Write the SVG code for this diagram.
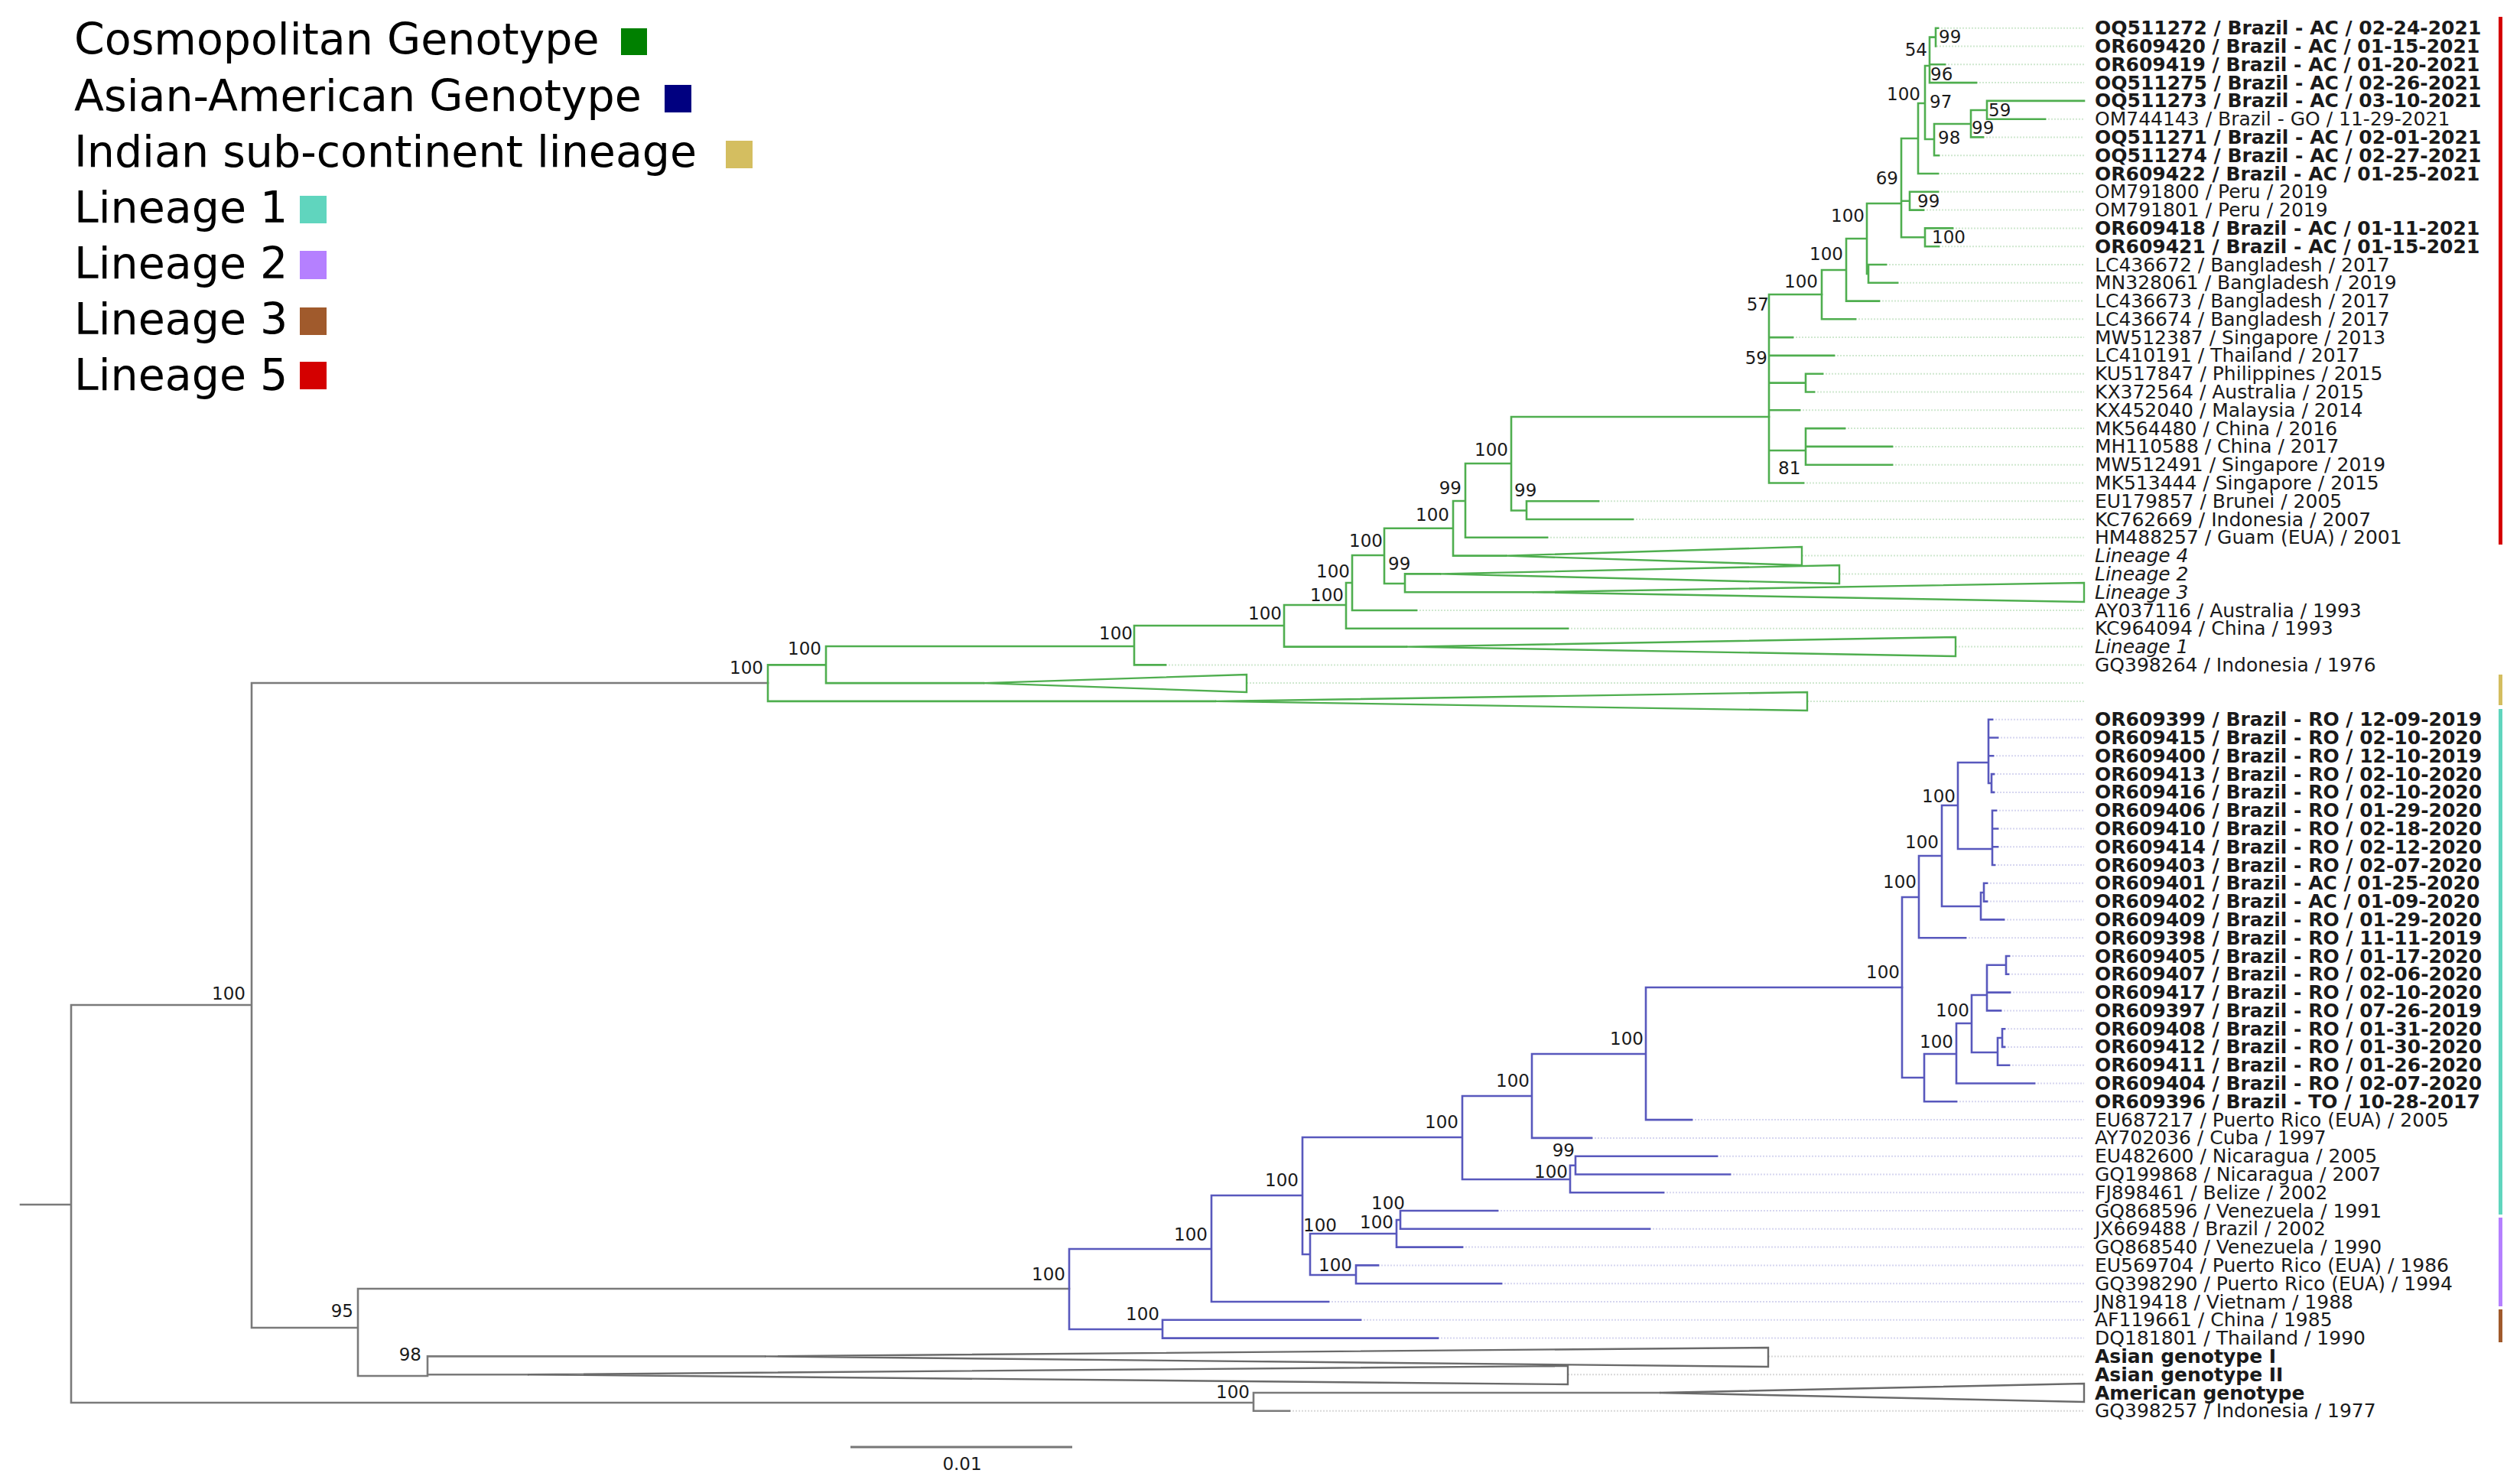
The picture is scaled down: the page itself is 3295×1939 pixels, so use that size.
<svg xmlns="http://www.w3.org/2000/svg" width="3295" height="1939" viewBox="0 0 3295 1939">
<style>
text{font-family:"DejaVu Sans","Liberation Sans",sans-serif;fill:#1a1a1a}
.t{font-size:25px}
.bd{font-weight:bold}
.it{font-style:italic}
.n{font-size:23px}
.lgd{font-size:57px;fill:#000}
.g{stroke:#4fae4f;stroke-width:2.6;fill:none;stroke-linecap:square}
.b{stroke:#5858bd;stroke-width:2.6;fill:none;stroke-linecap:square}
.k{stroke:#7a7a7a;stroke-width:2.6;fill:none;stroke-linecap:square}
.gt{stroke:#4fae4f;stroke-width:2.4;fill:none;stroke-linejoin:miter}
.kt{stroke:#6a6a6a;stroke-width:2.4;fill:none}
.lg{stroke:#cfe8cf;stroke-width:2;stroke-dasharray:2 2;fill:none}
.lb{stroke:#d6d6f0;stroke-width:2;stroke-dasharray:2 2;fill:none}
.lk{stroke:#d8d8d8;stroke-width:2;stroke-dasharray:2 2;fill:none}
</style>
<rect width="3295" height="1939" fill="#fff"/>

<g id="legend">
<text class="lgd" x="97" y="71">Cosmopolitan Genotype</text><rect x="812" y="37" width="34" height="35" fill="#008000"/>
<text class="lgd" x="97" y="145">Asian-American Genotype</text><rect x="869" y="111" width="35" height="36" fill="#000080"/>
<text class="lgd" x="97" y="218">Indian sub-continent lineage</text><rect x="949" y="184" width="35" height="36" fill="#d4be60"/>
<text class="lgd" x="97" y="291">Lineage 1</text><rect x="392" y="256" width="35" height="36" fill="#60d5be"/>
<text class="lgd" x="97" y="364">Lineage 2</text><rect x="392" y="328" width="35" height="37" fill="#b580ff"/>
<text class="lgd" x="97" y="437">Lineage 3</text><rect x="392" y="402" width="35" height="36" fill="#a05a2c"/>
<text class="lgd" x="97" y="510">Lineage 5</text><rect x="392" y="473" width="35" height="36" fill="#d40000"/>
</g>

<g id="clade-bars">
<rect x="3267" y="22" width="5" height="690" fill="#d40000"/>
<rect x="3267" y="882" width="5" height="40" fill="#d4be60"/>
<rect x="3267" y="927" width="5" height="661" fill="#60d5be"/>
<rect x="3267" y="1592" width="5" height="116" fill="#b580ff"/>
<rect x="3267" y="1712" width="5" height="43" fill="#a05a2c"/>
</g>

<g id="connectors">
<path class="lg" d="M2534 36.7H2725M2532 60.5H2725M2543 84.3H2725M2584 108.1H2725M2674 155.7H2725M2593 179.4H2725M2535 203.2H2725M2534 227H2725M2534 250.8H2725M2515 274.6H2725M2553 298.4H2725M2535 322.2H2725M2466 346H2725M2481 369.8H2725M2457 393.6H2725M2426 417.3H2725M2344 441.1H2725M2398 464.9H2725M2383 488.7H2725M2372 512.5H2725M2353 536.3H2725M2412 560.1H2725M2474 583.9H2725M2474 607.7H2725M2358 631.5H2725M2090 655.2H2725M2135 679H2725M2023 702.8H2725M2356 726.6H2725M2405 750.4H2725M1852 798H2725M2050 821.8H2725M2557 845.6H2725M1524 869.4H2725M1630 893.1H2725M2363 916.9H2725"/>
<path class="lb" d="M2605 940.7H2725M2612 964.5H2725M2606 988.3H2725M2607 1012.1H2725M2607 1035.9H2725M2610 1059.7H2725M2612 1083.5H2725M2612 1107.3H2725M2608 1131H2725M2598 1154.8H2725M2598 1178.6H2725M2620 1202.4H2725M2570 1226.2H2725M2627 1250H2725M2626 1273.8H2725M2628 1297.6H2725M2616 1321.4H2725M2621 1345.2H2725M2621 1368.9H2725M2627 1392.7H2725M2660 1416.5H2725M2558 1440.3H2725M2212 1464.1H2725M2081 1487.9H2725M2245 1511.7H2725M2262 1535.5H2725M2175 1559.3H2725M1958 1583H2725M2157 1606.8H2725M1912 1630.6H2725M1802 1654.4H2725M1963 1678.2H2725M1737 1702H2725M1779 1725.8H2725M1880 1749.6H2725"/>
<path class="lk" d="M2312 1773.4H2725M2050 1797.2H2725M1686 1844.7H2725"/>

<path class="k" d="M27 1575H93M93 1314V1834M93 1314H329M93 1834H1639M329 893V1736M329 893H1004M329 1736H468M468 1685V1799M468 1685H1398M468 1799H559M559 1773.4V1797.2M559 1773.4H1000M559 1797.2H690M1639 1821V1844.7M1639 1844.7H1686M1639 1821H2170"/>
<path class="kt" d="M1000 1773.4L2312 1762V1787ZM690 1797.2L2050 1786V1810ZM2170 1821L2725 1809V1833Z"/>

<path class="g" d="M1004 869.4V917M1004 869.4H1080M1004 916.9H1589M1080 845V893.1M1080 845H1483M1080 893.1H1286M1483 818V869.4M1483 818H1679M1483 869.4H1524M1679 791V845.6M1679 791H1760M1679 845.6H1839M1760 762V821.8M1760 762H1768M1760 821.8H2050M1768 726V798M1768 726H1810M1768 798H1852M1810 690.7V763M1810 690.7H1900M1810 763H1837M1837 750.4V774.2M1837 750.4H1883M1837 774.2H2004M1900 655V726.6M1900 655H1916M1900 726.6H1969M1916 606V702.8M1916 606H1976M1916 702.8H2023M1976 545V667.5M1976 545H2313M1976 667.5H1996M1996 655.2V679M1996 655.2H2090M1996 679H2135"/>
<path class="g" d="M2313 385V631.5M2313 385H2382M2313 441.1H2344M2313 464.9H2398M2313 500.6H2361M2361 488.7V512.5M2361 488.7H2383M2361 512.5H2372M2313 536.3H2353M2313 589H2361M2361 560.1V607.7M2361 560.1H2412M2361 583.9H2474M2361 607.7H2474M2313 631.5H2358"/>
<path class="g" d="M2382 353V417.3M2382 353H2414M2382 417.3H2426M2414 312V393.6M2414 312H2441M2414 393.6H2457M2441 266V358M2441 266H2486M2441 358H2443M2443 346V369.8M2443 346H2466M2443 369.8H2481M2486 181V310.3M2486 181H2508M2486 262.7H2497M2486 310.3H2517M2497 250.8V274.6M2497 250.8H2534M2497 274.6H2515M2517 298.4V322.2M2517 298.4H2553M2517 322.2H2535M2508 135V227M2508 135H2517M2508 227H2534M2517 86V182M2517 86H2523M2517 182H2529M2523 48.6V108.1M2523 48.6H2531M2523 84.3H2543M2523 108.1H2584M2531 36.7V60.5M2531 36.7H2534M2529 162V203.2M2529 162H2577M2529 203.2H2535M2577 144V179.4M2577 144H2598M2577 179.4H2593M2598 131.9V155.7M2598 131.9H2725M2598 155.7H2674"/>
<path class="gt" d="M1589 916.9L2363 905V929ZM1286 893.1L1630 882V905ZM1839 845.6L2557 833V858ZM1883 750.4L2405 739V763ZM2004 774.2L2725 762V787ZM1969 726.6L2356 715V739Z"/>

<path class="b" d="M1398 1633V1738M1398 1633H1584M1398 1738H1520M1520 1725.8V1749.6M1520 1725.8H1779M1520 1749.6H1880M1584 1563V1702M1584 1563H1703M1584 1702H1737M1703 1487V1640M1703 1487H1912M1703 1640H1713M1713 1613V1667M1713 1613H1826M1713 1667H1773M1826 1595V1630.6M1826 1595H1831M1826 1630.6H1912M1831 1583V1606.8M1831 1583H1958M1831 1606.8H2157M1773 1654.4V1678.2M1773 1654.4H1802M1773 1678.2H1963M1912 1433V1542M1912 1433H2003M1912 1542H2053M2053 1523.7V1559.3M2053 1523.7H2060M2053 1559.3H2175M2060 1511.7V1535.5M2060 1511.7H2245M2060 1535.5H2262M2003 1378V1487.9M2003 1378H2152M2003 1487.9H2081M2152 1291V1464.1M2152 1291H2487M2152 1464.1H2212"/>
<path class="b" d="M2487 1173V1409M2487 1173H2509M2487 1409H2516M2509 1119V1226.2M2509 1119H2539M2509 1226.2H2570M2539 1053V1185M2539 1053H2560M2539 1185H2590M2560 997V1110M2560 997H2600M2560 1110H2605M2600 940.7V1024M2600 940.7H2605M2600 964.5H2612M2600 988.3H2606M2600 1024H2604M2604 1012.1V1035.9M2604 1012.1H2607M2604 1035.9H2607M2605 1059.7V1131M2605 1059.7H2610M2605 1083.5H2612M2605 1107.3H2612M2605 1131H2608M2590 1167V1202.4M2590 1167H2594M2594 1154.8V1178.6M2594 1154.8H2598M2594 1178.6H2598M2590 1202.4H2620M2516 1378V1440.3M2516 1378H2558M2516 1440.3H2558M2558 1338V1416.5M2558 1338H2578M2558 1416.5H2660M2578 1301V1376M2578 1301H2598M2578 1376H2612M2598 1261.7V1321.4M2598 1261.7H2623M2598 1297.6H2628M2598 1321.4H2616M2623 1250V1273.8M2623 1250H2627M2623 1273.8H2626M2612 1357V1392.7M2612 1357H2618M2612 1392.7H2627M2618 1345.2V1368.9M2618 1345.2H2621M2618 1368.9H2621"/>
</g>

<g id="support-values" class="n">
<g id="n-g1"><text class="n" x="2535" y="56">99</text></g>
<g id="n-g2"><text class="n" x="2520" y="73" text-anchor="end">54</text></g>
<g id="n-g3"><text class="n" x="2524" y="105">96</text></g>
<g id="n-g4"><text class="n" x="2511" y="131" text-anchor="end">100</text></g>
<g id="n-g5"><text class="n" x="2523" y="141">97</text></g>
<g id="n-g6"><text class="n" x="2600" y="152">59</text></g>
<g id="n-g7"><text class="n" x="2578" y="175">99</text></g>
<g id="n-g8"><text class="n" x="2534" y="188">98</text></g>
<g id="n-g9"><text class="n" x="2482" y="241" text-anchor="end">69</text></g>
<g id="n-g10"><text class="n" x="2507" y="271">99</text></g>
<g id="n-g11"><text class="n" x="2438" y="290" text-anchor="end">100</text></g>
<g id="n-g12"><text class="n" x="2526" y="318">100</text></g>
<g id="n-g13"><text class="n" x="2410" y="340" text-anchor="end">100</text></g>
<g id="n-g14"><text class="n" x="2377" y="376" text-anchor="end">100</text></g>
<g id="n-g15"><text class="n" x="2313" y="406" text-anchor="end">57</text></g>
<g id="n-g16"><text class="n" x="2311" y="476" text-anchor="end">59</text></g>
<g id="n-g17"><text class="n" x="2325" y="620">81</text></g>
<g id="n-g18"><text class="n" x="1972" y="596" text-anchor="end">100</text></g>
<g id="n-g19"><text class="n" x="1980" y="649">99</text></g>
<g id="n-g20"><text class="n" x="1911" y="646" text-anchor="end">99</text></g>
<g id="n-g21"><text class="n" x="1895" y="681" text-anchor="end">100</text></g>
<g id="n-g22"><text class="n" x="1808" y="715" text-anchor="end">100</text></g>
<g id="n-g23"><text class="n" x="1815" y="745">99</text></g>
<g id="n-g24"><text class="n" x="1765" y="755" text-anchor="end">100</text></g>
<g id="n-g25"><text class="n" x="1757" y="786" text-anchor="end">100</text></g>
<g id="n-g26"><text class="n" x="1676" y="810" text-anchor="end">100</text></g>
<g id="n-g27"><text class="n" x="1481" y="836" text-anchor="end">100</text></g>
<g id="n-g28"><text class="n" x="1074" y="856" text-anchor="end">100</text></g>
<g id="n-g29"><text class="n" x="998" y="881" text-anchor="end">100</text></g>
<g id="n-k1"><text class="n" x="321" y="1307" text-anchor="end">100</text></g>
<g id="n-k2"><text class="n" x="462" y="1722" text-anchor="end">95</text></g>
<g id="n-k3"><text class="n" x="551" y="1779" text-anchor="end">98</text></g>
<g id="n-k4"><text class="n" x="1634" y="1828" text-anchor="end">100</text></g>
<g id="n-b1"><text class="n" x="2557" y="1049" text-anchor="end">100</text></g>
<g id="n-b2"><text class="n" x="2535" y="1109" text-anchor="end">100</text></g>
<g id="n-b3"><text class="n" x="2506" y="1161" text-anchor="end">100</text></g>
<g id="n-b4"><text class="n" x="2484" y="1279" text-anchor="end">100</text></g>
<g id="n-b5"><text class="n" x="2575" y="1329" text-anchor="end">100</text></g>
<g id="n-b6"><text class="n" x="2554" y="1370" text-anchor="end">100</text></g>
<g id="n-b7"><text class="n" x="2149" y="1366" text-anchor="end">100</text></g>
<g id="n-b8"><text class="n" x="2000" y="1421" text-anchor="end">100</text></g>
<g id="n-b9"><text class="n" x="1907" y="1475" text-anchor="end">100</text></g>
<g id="n-b10"><text class="n" x="2059" y="1512" text-anchor="end">99</text></g>
<g id="n-b11"><text class="n" x="2050" y="1540" text-anchor="end">100</text></g>
<g id="n-b12"><text class="n" x="1837" y="1581" text-anchor="end">100</text></g>
<g id="n-b13"><text class="n" x="1698" y="1551" text-anchor="end">100</text></g>
<g id="n-b14"><text class="n" x="1822" y="1606" text-anchor="end">100</text></g>
<g id="n-b15"><text class="n" x="1748" y="1610" text-anchor="end">100</text></g>
<g id="n-b16"><text class="n" x="1768" y="1662" text-anchor="end">100</text></g>
<g id="n-b17"><text class="n" x="1579" y="1622" text-anchor="end">100</text></g>
<g id="n-b18"><text class="n" x="1393" y="1674" text-anchor="end">100</text></g>
<g id="n-b19"><text class="n" x="1516" y="1726" text-anchor="end">100</text></g>
</g>

<g id="tips" class="t">
<g id="tip-OQ511272"><text class="t bd" x="2739" y="45.2">OQ511272 / Brazil - AC / 02-24-2021</text></g>
<g id="tip-OR609420"><text class="t bd" x="2739" y="69">OR609420 / Brazil - AC / 01-15-2021</text></g>
<g id="tip-OR609419"><text class="t bd" x="2739" y="92.8">OR609419 / Brazil - AC / 01-20-2021</text></g>
<g id="tip-OQ511275"><text class="t bd" x="2739" y="116.6">OQ511275 / Brazil - AC / 02-26-2021</text></g>
<g id="tip-OQ511273"><text class="t bd" x="2739" y="140.4">OQ511273 / Brazil - AC / 03-10-2021</text></g>
<g id="tip-OM744143"><text class="t" x="2739" y="164.2">OM744143 / Brazil - GO / 11-29-2021</text></g>
<g id="tip-OQ511271"><text class="t bd" x="2739" y="187.9">OQ511271 / Brazil - AC / 02-01-2021</text></g>
<g id="tip-OQ511274"><text class="t bd" x="2739" y="211.7">OQ511274 / Brazil - AC / 02-27-2021</text></g>
<g id="tip-OR609422"><text class="t bd" x="2739" y="235.5">OR609422 / Brazil - AC / 01-25-2021</text></g>
<g id="tip-OM791800"><text class="t" x="2739" y="259.3">OM791800 / Peru / 2019</text></g>
<g id="tip-OM791801"><text class="t" x="2739" y="283.1">OM791801 / Peru / 2019</text></g>
<g id="tip-OR609418"><text class="t bd" x="2739" y="306.9">OR609418 / Brazil - AC / 01-11-2021</text></g>
<g id="tip-OR609421"><text class="t bd" x="2739" y="330.7">OR609421 / Brazil - AC / 01-15-2021</text></g>
<g id="tip-LC436672"><text class="t" x="2739" y="354.5">LC436672 / Bangladesh / 2017</text></g>
<g id="tip-MN328061"><text class="t" x="2739" y="378.3">MN328061 / Bangladesh / 2019</text></g>
<g id="tip-LC436673"><text class="t" x="2739" y="402.1">LC436673 / Bangladesh / 2017</text></g>
<g id="tip-LC436674"><text class="t" x="2739" y="425.8">LC436674 / Bangladesh / 2017</text></g>
<g id="tip-MW512387"><text class="t" x="2739" y="449.6">MW512387 / Singapore / 2013</text></g>
<g id="tip-LC410191"><text class="t" x="2739" y="473.4">LC410191 / Thailand / 2017</text></g>
<g id="tip-KU517847"><text class="t" x="2739" y="497.2">KU517847 / Philippines / 2015</text></g>
<g id="tip-KX372564"><text class="t" x="2739" y="521">KX372564 / Australia / 2015</text></g>
<g id="tip-KX452040"><text class="t" x="2739" y="544.8">KX452040 / Malaysia / 2014</text></g>
<g id="tip-MK564480"><text class="t" x="2739" y="568.6">MK564480 / China / 2016</text></g>
<g id="tip-MH110588"><text class="t" x="2739" y="592.4">MH110588 / China / 2017</text></g>
<g id="tip-MW512491"><text class="t" x="2739" y="616.2">MW512491 / Singapore / 2019</text></g>
<g id="tip-MK513444"><text class="t" x="2739" y="640">MK513444 / Singapore / 2015</text></g>
<g id="tip-EU179857"><text class="t" x="2739" y="663.7">EU179857 / Brunei / 2005</text></g>
<g id="tip-KC762669"><text class="t" x="2739" y="687.5">KC762669 / Indonesia / 2007</text></g>
<g id="tip-HM488257"><text class="t" x="2739" y="711.3">HM488257 / Guam (EUA) / 2001</text></g>
<g id="tip-lineage4"><text class="t it" x="2739" y="735.1">Lineage 4</text></g>
<g id="tip-lineage2"><text class="t it" x="2739" y="758.9">Lineage 2</text></g>
<g id="tip-lineage3"><text class="t it" x="2739" y="782.7">Lineage 3</text></g>
<g id="tip-AY037116"><text class="t" x="2739" y="806.5">AY037116 / Australia / 1993</text></g>
<g id="tip-KC964094"><text class="t" x="2739" y="830.3">KC964094 / China / 1993</text></g>
<g id="tip-lineage1"><text class="t it" x="2739" y="854.1">Lineage 1</text></g>
<g id="tip-GQ398264"><text class="t" x="2739" y="877.9">GQ398264 / Indonesia / 1976</text></g>
<g id="tip-OR609399"><text class="t bd" x="2739" y="949.2">OR609399 / Brazil - RO / 12-09-2019</text></g>
<g id="tip-OR609415"><text class="t bd" x="2739" y="973">OR609415 / Brazil - RO / 02-10-2020</text></g>
<g id="tip-OR609400"><text class="t bd" x="2739" y="996.8">OR609400 / Brazil - RO / 12-10-2019</text></g>
<g id="tip-OR609413"><text class="t bd" x="2739" y="1020.6">OR609413 / Brazil - RO / 02-10-2020</text></g>
<g id="tip-OR609416"><text class="t bd" x="2739" y="1044.4">OR609416 / Brazil - RO / 02-10-2020</text></g>
<g id="tip-OR609406"><text class="t bd" x="2739" y="1068.2">OR609406 / Brazil - RO / 01-29-2020</text></g>
<g id="tip-OR609410"><text class="t bd" x="2739" y="1092">OR609410 / Brazil - RO / 02-18-2020</text></g>
<g id="tip-OR609414"><text class="t bd" x="2739" y="1115.8">OR609414 / Brazil - RO / 02-12-2020</text></g>
<g id="tip-OR609403"><text class="t bd" x="2739" y="1139.5">OR609403 / Brazil - RO / 02-07-2020</text></g>
<g id="tip-OR609401"><text class="t bd" x="2739" y="1163.3">OR609401 / Brazil - AC / 01-25-2020</text></g>
<g id="tip-OR609402"><text class="t bd" x="2739" y="1187.1">OR609402 / Brazil - AC / 01-09-2020</text></g>
<g id="tip-OR609409"><text class="t bd" x="2739" y="1210.9">OR609409 / Brazil - RO / 01-29-2020</text></g>
<g id="tip-OR609398"><text class="t bd" x="2739" y="1234.7">OR609398 / Brazil - RO / 11-11-2019</text></g>
<g id="tip-OR609405"><text class="t bd" x="2739" y="1258.5">OR609405 / Brazil - RO / 01-17-2020</text></g>
<g id="tip-OR609407"><text class="t bd" x="2739" y="1282.3">OR609407 / Brazil - RO / 02-06-2020</text></g>
<g id="tip-OR609417"><text class="t bd" x="2739" y="1306.1">OR609417 / Brazil - RO / 02-10-2020</text></g>
<g id="tip-OR609397"><text class="t bd" x="2739" y="1329.9">OR609397 / Brazil - RO / 07-26-2019</text></g>
<g id="tip-OR609408"><text class="t bd" x="2739" y="1353.7">OR609408 / Brazil - RO / 01-31-2020</text></g>
<g id="tip-OR609412"><text class="t bd" x="2739" y="1377.4">OR609412 / Brazil - RO / 01-30-2020</text></g>
<g id="tip-OR609411"><text class="t bd" x="2739" y="1401.2">OR609411 / Brazil - RO / 01-26-2020</text></g>
<g id="tip-OR609404"><text class="t bd" x="2739" y="1425">OR609404 / Brazil - RO / 02-07-2020</text></g>
<g id="tip-OR609396"><text class="t bd" x="2739" y="1448.8">OR609396 / Brazil - TO / 10-28-2017</text></g>
<g id="tip-EU687217"><text class="t" x="2739" y="1472.6">EU687217 / Puerto Rico (EUA) / 2005</text></g>
<g id="tip-AY702036"><text class="t" x="2739" y="1496.4">AY702036 / Cuba / 1997</text></g>
<g id="tip-EU482600"><text class="t" x="2739" y="1520.2">EU482600 / Nicaragua / 2005</text></g>
<g id="tip-GQ199868"><text class="t" x="2739" y="1544">GQ199868 / Nicaragua / 2007</text></g>
<g id="tip-FJ898461"><text class="t" x="2739" y="1567.8">FJ898461 / Belize / 2002</text></g>
<g id="tip-GQ868596"><text class="t" x="2739" y="1591.6">GQ868596 / Venezuela / 1991</text></g>
<g id="tip-JX669488"><text class="t" x="2739" y="1615.3">JX669488 / Brazil / 2002</text></g>
<g id="tip-GQ868540"><text class="t" x="2739" y="1639.1">GQ868540 / Venezuela / 1990</text></g>
<g id="tip-EU569704"><text class="t" x="2739" y="1662.9">EU569704 / Puerto Rico (EUA) / 1986</text></g>
<g id="tip-GQ398290"><text class="t" x="2739" y="1686.7">GQ398290 / Puerto Rico (EUA) / 1994</text></g>
<g id="tip-JN819418"><text class="t" x="2739" y="1710.5">JN819418 / Vietnam / 1988</text></g>
<g id="tip-AF119661"><text class="t" x="2739" y="1734.3">AF119661 / China / 1985</text></g>
<g id="tip-DQ181801"><text class="t" x="2739" y="1758.1">DQ181801 / Thailand / 1990</text></g>
<g id="tip-asian1"><text class="t bd" x="2739" y="1781.9">Asian genotype I</text></g>
<g id="tip-asian2"><text class="t bd" x="2739" y="1805.7">Asian genotype II</text></g>
<g id="tip-american"><text class="t bd" x="2739" y="1829.5">American genotype</text></g>
<g id="tip-GQ398257"><text class="t" x="2739" y="1853.2">GQ398257 / Indonesia / 1977</text></g>
</g>

<g id="scale-bar">
<path d="M1112 1892H1402" stroke="#777" stroke-width="3"/>
<text class="n" x="1258" y="1922" text-anchor="middle">0.01</text>
</g>
</svg>
